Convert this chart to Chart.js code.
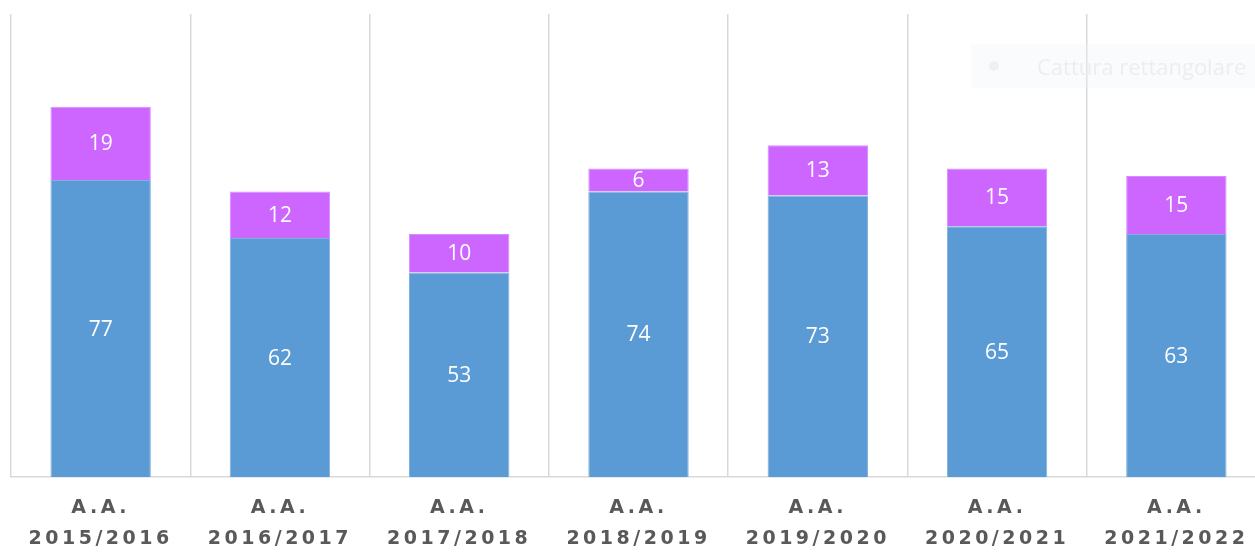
<!DOCTYPE html>
<html>
<head>
<meta charset="utf-8">
<script src="https://cdn.jsdelivr.net/npm/chart.js@4"></script>
<style>
  html, body { margin: 0; padding: 0; background: #fff; overflow: hidden; }
  #wrap { position: relative; width: 1272px; height: 554px; }
  #snip { position: absolute; left: 971px; top: 44px; width: 300px; height: 44px;
          background: rgba(238,243,250,0.35); font: 22px "Open Sans", sans-serif; color: #eceef0;
          line-height: 44px; white-space: nowrap; }
  #snip .dot { position: absolute; left: 18px; top: 17px; width: 10px; height: 10px; border-radius: 5px; background: #f0f0f2; }
  #snip .txt { position: absolute; left: 66px; }
</style>
</head>
<body>
<div id="wrap">
  <canvas id="chart"></canvas>
  <div id="snip"><span class="dot"></span><span class="txt">Cattura rettangolare</span></div>
</div>
<script>
// academic years on the x axis, two lines each
const years = ['2015/2016','2016/2017','2017/2018','2018/2019','2019/2020','2020/2021','2021/2022'];
const labels = years.map(y => ['A.A.', y]);
const blueValues = [77, 62, 53, 74, 73, 65, 63];
const purpleValues = [19, 12, 10, 6, 13, 15, 15];

// letter spacing for the axis labels, data labels drawn separately without it
const spacingPlugin = {
  id: 'spacing',
  beforeDraw(chart){ chart.ctx.letterSpacing = '3.5px'; },
  afterDatasetsDraw(chart){
    const ctx = chart.ctx;
    ctx.save();
    ctx.letterSpacing = '0px';
    ctx.fillStyle = '#ffffff';
    ctx.font = '21px "Open Sans", sans-serif';
    ctx.textAlign = 'center';
    ctx.textBaseline = 'middle';
    chart.data.datasets.forEach((ds, i) => {
      chart.getDatasetMeta(i).data.forEach((bar, j) => {
        const p = bar.getProps(['x','y','base'], true);
        ctx.fillText(String(ds.data[j]), p.x, (p.y + p.base) / 2 + 1);
      });
    });
    ctx.restore();
  }
};

new Chart(document.getElementById('chart'), {
  type: 'bar',
  data: {
    labels,
    datasets: [
      { data: blueValues, backgroundColor: '#5b9bd5', borderColor: '#7fb0df', borderWidth: 1, borderSkipped: 'bottom' },
      { data: purpleValues, backgroundColor: '#cc66ff', borderColor: '#d98cff', borderWidth: 1, borderSkipped: 'bottom' }
    ]
  },
  options: {
    responsive: true,
    maintainAspectRatio: false,
    animation: false,
    layout: { padding: { left: 11, top: 14, right: 6, bottom: -16 } },
    plugins: { legend: { display: false }, tooltip: { enabled: false } },
    datasets: { bar: { categoryPercentage: 1, barPercentage: 0.56 } },
    scales: {
      x: {
        stacked: true,
        grid: { offset: true, color: '#d9d9d9', lineWidth: 1.5, drawTicks: false },
        border: { color: '#d9d9d9', width: 1.5 },
        ticks: {
          padding: 16, maxRotation: 0, autoSkip: false, color: '#595959',
          font: { family: '"DejaVu Sans", Verdana, sans-serif', size: 19, weight: 'bold', lineHeight: 1.6 }
        }
      },
      y: { stacked: true, display: false, min: 0, max: 120 }
    }
  },
  plugins: [spacingPlugin]
});
</script>
</body>
</html>
